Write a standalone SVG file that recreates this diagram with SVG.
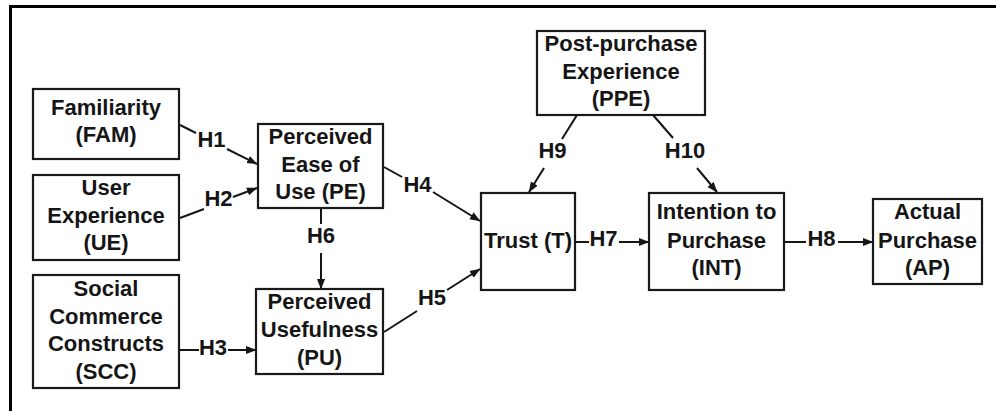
<svg xmlns="http://www.w3.org/2000/svg" width="996" height="411" viewBox="0 0 996 411">
<style>
.box{fill:#fff;stroke:#1a1a1a;stroke-width:2.2}
.t{font-family:"Liberation Sans",Arial,sans-serif;font-weight:bold;font-size:22px;fill:#151515;text-anchor:middle}
.c{stroke:#151515;stroke-width:2;fill:none}
.a{marker-end:url(#ah)}
</style>
<defs>
<marker id="ah" markerUnits="userSpaceOnUse" markerWidth="11" markerHeight="9" refX="10" refY="4.5" orient="auto">
<path d="M0,0.5 L10.5,4.5 L0,8.5 z" fill="#151515"/>
</marker>
</defs>
<rect x="0" y="0" width="996" height="411" fill="#fff"/>
<path d="M10.5,411 V6.5 H996" fill="none" stroke="#000" stroke-width="3"/>

<g id="FAM"><rect class="box" x="33" y="89" width="146" height="70"/>
<text class="t" x="106" y="115">Familiarity</text><text class="t" x="106" y="142">(FAM)</text></g>
<g id="UE"><rect class="box" x="33" y="175" width="146" height="85"/>
<text class="t" x="106" y="195">User</text><text class="t" x="106" y="222.5">Experience</text><text class="t" x="106" y="250">(UE)</text></g>
<g id="SCC"><rect class="box" x="33" y="275" width="146" height="113"/>
<text class="t" x="106" y="296">Social</text><text class="t" x="106" y="323.5">Commerce</text><text class="t" x="106" y="351">Constructs</text><text class="t" x="106" y="378.5">(SCC)</text></g>
<g id="PE"><rect class="box" x="258" y="124" width="125" height="84"/>
<text class="t" x="320.5" y="144">Perceived</text><text class="t" x="320.5" y="172">Ease of</text><text class="t" x="320.5" y="199">Use (PE)</text></g>
<g id="PU"><rect class="box" x="256" y="289" width="127" height="85"/>
<text class="t" x="319.5" y="309">Perceived</text><text class="t" x="319.5" y="337">Usefulness</text><text class="t" x="319.5" y="364.5">(PU)</text></g>
<g id="T"><rect class="box" x="481" y="193" width="94" height="97"/>
<text class="t" x="528" y="248">Trust (T)</text></g>
<g id="PPE"><rect class="box" x="537" y="31" width="168" height="84"/>
<text class="t" x="621" y="51">Post-purchase</text><text class="t" x="621" y="78.5">Experience</text><text class="t" x="621" y="106">(PPE)</text></g>
<g id="INT"><rect class="box" x="649" y="193" width="135" height="97"/>
<text class="t" x="716.5" y="218.5">Intention to</text><text class="t" x="716.5" y="247.5">Purchase</text><text class="t" x="716.5" y="275">(INT)</text></g>
<g id="AP"><rect class="box" x="873" y="199" width="109" height="85"/>
<text class="t" x="927.5" y="218.5">Actual</text><text class="t" x="927.5" y="247.5">Purchase</text><text class="t" x="927.5" y="275">(AP)</text></g>

<g id="connectors">
<line class="c" x1="180" y1="125" x2="196" y2="133"/><line class="c a" x1="227" y1="149" x2="257" y2="164"/>
<text class="t" x="211.5" y="147">H1</text>
<line class="c" x1="180" y1="218" x2="204" y2="209"/><line class="c a" x1="233" y1="197" x2="257" y2="188"/>
<text class="t" x="218.5" y="205.5">H2</text>
<line class="c" x1="180" y1="350" x2="199" y2="350"/><line class="c a" x1="228" y1="350" x2="256" y2="350"/>
<text class="t" x="213" y="354.5">H3</text>
<line class="c" x1="384" y1="167" x2="402" y2="177"/><line class="c a" x1="433" y1="192" x2="480" y2="221"/>
<text class="t" x="417.5" y="192">H4</text>
<line class="c" x1="384" y1="332" x2="417" y2="311"/><line class="c a" x1="447" y1="290" x2="480" y2="269"/>
<text class="t" x="432" y="305">H5</text>
<line class="c" x1="321" y1="208" x2="321" y2="224"/><line class="c a" x1="321" y1="253" x2="321" y2="289"/>
<text class="t" x="321" y="243">H6</text>
<line class="c" x1="575" y1="242" x2="589" y2="242"/><line class="c a" x1="619" y1="242" x2="649" y2="242"/>
<text class="t" x="603.5" y="246">H7</text>
<line class="c" x1="784" y1="242" x2="806" y2="242"/><line class="c a" x1="838" y1="242" x2="873" y2="242"/>
<text class="t" x="821.5" y="246">H8</text>
<line class="c" x1="577" y1="115" x2="562" y2="139"/><line class="c a" x1="544" y1="168" x2="529" y2="192"/>
<text class="t" x="552.5" y="158">H9</text>
<line class="c" x1="653" y1="115" x2="673" y2="138"/><line class="c a" x1="697" y1="168" x2="717" y2="192"/>
<text class="t" x="685" y="158">H10</text>
</g>
</svg>
